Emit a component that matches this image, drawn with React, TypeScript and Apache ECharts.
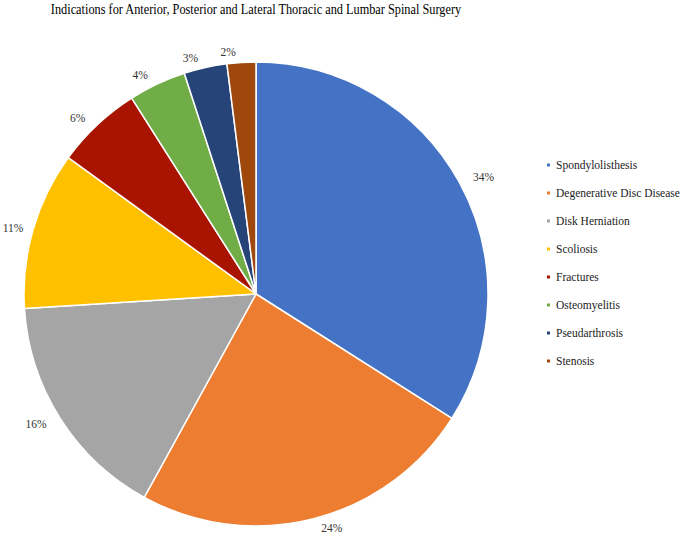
import React, { useEffect, useRef } from "react";
import * as echarts from "echarts";

const categories = [
  "Spondylolisthesis",
  "Degenerative Disc Disease",
  "Disk Herniation",
  "Scoliosis",
  "Fractures",
  "Osteomyelitis",
  "Pseudarthrosis",
  "Stenosis",
];
const values = [34, 24, 16, 11, 6, 4, 3, 2];
const colors = ["#4472C4", "#ED7D31", "#A5A5A5", "#FFC000", "#A91400", "#70AD47", "#264478", "#9E480E"];
const titleText = "Indications for Anterior, Posterior and Lateral Thoracic and Lumbar Spinal Surgery";

const FONT = "'Liberation Serif', 'Times New Roman', serif";

export default function App() {
  const ref = useRef<HTMLDivElement>(null);
  useEffect(() => {
    const chart = echarts.init(ref.current!, undefined, { renderer: "svg" });
    chart.setOption({
      animation: false,
      backgroundColor: "#ffffff",
      color: colors,
      graphic: [
        {
          type: "text",
          x: 256,
          y: 9,
          scaleX: 0.82,
          style: {
            text: titleText,
            fontFamily: FONT,
            fontSize: 15,
            fill: "#000",
            align: "center",
            verticalAlign: "middle",
          },
        },
      ],
      legend: {
        orient: "vertical",
        left: 545,
        top: 158,
        padding: 0,
        icon: "rect",
        itemWidth: 5,
        itemHeight: 5,
        itemGap: 14,
        data: categories,
        textStyle: { fontFamily: FONT, fontSize: 11.5, color: "#222", lineHeight: 14 },
      },
      series: [
        {
          type: "pie",
          center: [256, 294],
          radius: [0, 232],
          startAngle: 90,
          clockwise: true,
          avoidLabelOverlap: false,
          data: categories.map((c, i) =>
            c === "Scoliosis"
              ? { name: c, value: values[i], labelLine: { length: 5, length2: 0 } }
              : { name: c, value: values[i] }
          ),
          itemStyle: { borderColor: "#ffffff", borderWidth: 1.5 },
          label: {
            show: true,
            position: "outside",
            formatter: (p: any) => `${p.value}%`,
            fontFamily: FONT,
            fontSize: 11.5,
            color: "#333",
            overflow: "none",
          },
          labelLine: { show: false, length: 10, length2: 0 },
          labelLayout: { hideOverlap: false },
          emphasis: { disabled: true },
        },
      ],
    });
    return () => chart.dispose();
  }, []);
  return <div ref={ref} style={{ position: "fixed", left: 0, top: 0, width: 685, height: 540 }} />;
}
